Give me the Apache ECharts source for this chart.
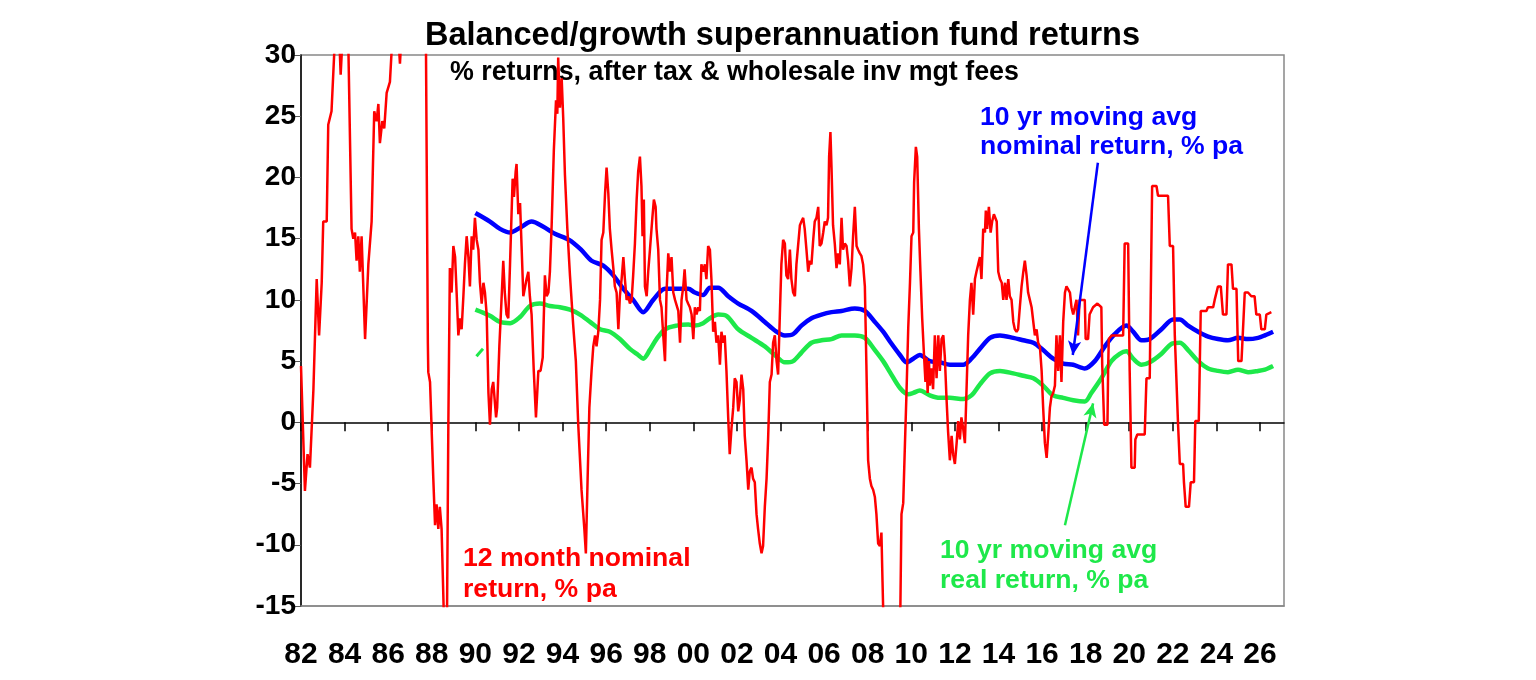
<!DOCTYPE html>
<html>
<head>
<meta charset="utf-8">
<title>Balanced/growth superannuation fund returns</title>
<script src="https://cdn.jsdelivr.net/npm/echarts@6.0.0/dist/echarts.min.js"></script>
<style>
  html, body { margin: 0; padding: 0; background: #fff; }
  #chart { width: 1536px; height: 680px; }
</style>
</head>
<body>
<div id="chart"></div>
<script>
// values: [decimal year, % pa]
// 12 month nominal return (goes past the axis range in 83-87, 88 and 08-09)
var nominal12m = [
  [1982.0, 4.6], [1982.18, -5.6], [1982.3, -2.6], [1982.41, -3.7], [1982.57, 2.7], [1982.72, 11.7],
  [1982.83, 7.1], [1982.95, 11.4], [1983.02, 16.4], [1983.18, 16.4], [1983.25, 24.3], [1983.4, 25.4],
  [1983.56, 31.5], [1983.7, 34], [1983.82, 28.4], [1983.95, 33], [1984.1, 34], [1984.17, 31],
  [1984.32, 15.8], [1984.4, 15.0], [1984.48, 15.5], [1984.55, 13.2], [1984.63, 15.2], [1984.7, 12.3],
  [1984.78, 15.2], [1984.94, 6.8], [1985.09, 12.9], [1985.24, 16.4], [1985.36, 25.4], [1985.47, 24.6],
  [1985.55, 26.0], [1985.62, 22.8], [1985.73, 24.6], [1985.82, 24.0], [1985.93, 26.9], [1986.08, 27.8],
  [1986.16, 30.4], [1986.3, 34], [1986.45, 32], [1986.54, 29.3], [1986.65, 33], [1986.9, 40],
  [1987.2, 45], [1987.5, 42], [1987.7, 40], [1987.82, 6.5], [1987.84, 4.1], [1987.92, 3.3],
  [1988.07, -4.6], [1988.15, -8.4], [1988.22, -6.7], [1988.3, -8.7], [1988.37, -6.9], [1988.45, -8.7],
  [1988.55, -15.5], [1988.62, -17], [1988.7, -15.5], [1988.76, -0.2], [1988.83, 12.6], [1988.91, 10.6],
  [1988.99, 14.4], [1989.07, 13.5], [1989.14, 10.6], [1989.22, 7.1], [1989.3, 8.5], [1989.37, 7.6],
  [1989.45, 10.3], [1989.52, 12.9], [1989.6, 15.2], [1989.68, 13.5], [1989.75, 11.1], [1989.83, 15.2],
  [1989.9, 14.1], [1989.98, 16.7], [1990.06, 14.9], [1990.14, 14.1], [1990.21, 11.4], [1990.29, 9.7],
  [1990.37, 11.4], [1990.44, 10.6], [1990.52, 8.8], [1990.6, 2.4], [1990.67, -0.2], [1990.75, 2.7],
  [1990.82, 3.3], [1990.95, 0.4], [1991.0, 1.2], [1991.1, 6.2], [1991.2, 10.0], [1991.28, 13.2],
  [1991.35, 10.6], [1991.43, 8.8], [1991.51, 8.5], [1991.59, 12.9], [1991.71, 19.9], [1991.77, 18.4],
  [1991.85, 20.5], [1991.89, 21.1], [1991.97, 17.0], [1992.05, 17.9], [1992.12, 14.4], [1992.2, 10.3],
  [1992.28, 10.3], [1992.35, 11.7], [1992.43, 12.3], [1992.5, 10.3], [1992.58, 8.8], [1992.68, 4.2],
  [1992.78, 0.4], [1992.89, 4.2], [1992.99, 4.2], [1993.09, 5.3], [1993.19, 12.0], [1993.27, 10.3],
  [1993.35, 10.6], [1993.42, 12.3], [1993.5, 16.1], [1993.6, 22.2], [1993.7, 26.3], [1993.76, 25.2],
  [1993.8, 29.8], [1993.88, 25.7], [1993.96, 28.1], [1994.03, 24.9], [1994.11, 20.2], [1994.22, 15.8],
  [1994.34, 12.0], [1994.49, 7.9], [1994.61, 5.0], [1994.72, -0.2], [1994.87, -5.5], [1995.0, -8.7],
  [1995.07, -10.7], [1995.15, -4.6], [1995.23, 1.2], [1995.33, 4.2], [1995.41, 6.2], [1995.49, 7.1],
  [1995.56, 6.2], [1995.64, 7.4], [1995.72, 10.0], [1995.79, 14.9], [1995.87, 15.5], [1995.95, 18.7],
  [1996.02, 20.8], [1996.1, 18.7], [1996.17, 15.8], [1996.25, 14.1], [1996.33, 12.6], [1996.4, 11.1],
  [1996.48, 10.6], [1996.56, 7.6], [1996.63, 10.3], [1996.71, 11.7], [1996.79, 13.5], [1996.86, 11.7],
  [1996.94, 10.0], [1997.02, 10.3], [1997.09, 9.7], [1997.17, 10.0], [1997.24, 12.0], [1997.32, 14.6],
  [1997.4, 18.2], [1997.47, 20.5], [1997.55, 21.7], [1997.62, 19.3], [1997.67, 15.2], [1997.73, 18.2],
  [1997.78, 11.1], [1997.86, 10.3], [1997.93, 12.3], [1998.01, 14.1], [1998.12, 16.7], [1998.19, 18.2],
  [1998.27, 17.6], [1998.31, 15.8], [1998.39, 14.1], [1998.47, 10.0], [1998.54, 9.4], [1998.62, 7.1],
  [1998.7, 5.0], [1998.77, 10.6], [1998.85, 13.8], [1998.93, 12.3], [1999.0, 13.5], [1999.08, 10.6],
  [1999.16, 10.0], [1999.23, 10.0], [1999.31, 9.1], [1999.39, 6.5], [1999.46, 10.0], [1999.54, 11.1],
  [1999.6, 12.5], [1999.69, 10.0], [1999.76, 9.7], [1999.84, 9.4], [1999.92, 8.8], [2000.0, 6.8],
  [2000.07, 9.4], [2000.15, 8.8], [2000.22, 9.4], [2000.3, 9.1], [2000.37, 12.9], [2000.45, 12.3],
  [2000.53, 12.9], [2000.6, 11.7], [2000.68, 14.4], [2000.76, 14.1], [2000.83, 11.7], [2000.91, 7.4],
  [2000.99, 8.2], [2001.06, 6.5], [2001.14, 7.1], [2001.22, 4.7], [2001.29, 7.4], [2001.37, 6.5],
  [2001.44, 7.1], [2001.52, 4.2], [2001.6, 0.4], [2001.67, -2.6], [2001.75, -0.5], [2001.83, 1.2],
  [2001.9, 3.6], [2001.98, 3.3], [2002.06, 0.9], [2002.13, 1.8], [2002.21, 3.9], [2002.29, 2.7],
  [2002.36, -1.1], [2002.44, -3.1], [2002.52, -5.5], [2002.59, -4.0], [2002.67, -3.7], [2002.74, -4.6],
  [2002.82, -4.9], [2002.9, -7.5], [2002.97, -8.7], [2003.05, -9.9], [2003.13, -10.7], [2003.2, -10.1],
  [2003.28, -6.9], [2003.36, -4.6], [2003.43, -1.4], [2003.51, 3.3], [2003.59, 3.9], [2003.66, 6.5],
  [2003.74, 7.1], [2003.82, 5.0], [2003.89, 3.9], [2003.97, 8.8], [2004.04, 12.9], [2004.12, 14.9],
  [2004.2, 14.6], [2004.27, 12.0], [2004.35, 11.7], [2004.43, 14.1], [2004.5, 11.7], [2004.58, 10.6],
  [2004.66, 10.3], [2004.73, 12.9], [2004.81, 12.9], [2004.89, 16.1], [2004.96, 16.4], [2005.04, 16.7],
  [2005.11, 15.8], [2005.19, 14.1], [2005.27, 12.3], [2005.34, 13.2], [2005.42, 12.9], [2005.5, 14.9],
  [2005.57, 16.4], [2005.65, 16.7], [2005.73, 17.6], [2005.8, 14.4], [2005.88, 14.6], [2005.96, 15.5],
  [2006.03, 16.4], [2006.11, 16.1], [2006.18, 16.7], [2006.23, 21.7], [2006.29, 23.7], [2006.34, 20.8],
  [2006.41, 16.1], [2006.49, 14.6], [2006.57, 12.6], [2006.64, 13.8], [2006.72, 12.9], [2006.8, 16.7],
  [2006.87, 14.1], [2006.95, 14.6], [2007.03, 14.4], [2007.1, 13.2], [2007.18, 11.1], [2007.26, 12.6],
  [2007.33, 15.2], [2007.41, 17.6], [2007.49, 14.4], [2007.56, 14.1], [2007.64, 13.8], [2007.71, 13.6],
  [2007.79, 12.9], [2007.87, 11.1], [2007.94, 4.7], [2008.02, -3.1], [2008.1, -4.6], [2008.17, -5.2],
  [2008.25, -5.5], [2008.33, -6.1], [2008.4, -7.5], [2008.48, -9.9], [2008.56, -10.1], [2008.63, -9.0],
  [2008.68, -13], [2008.72, -16], [2008.9, -20], [2009.1, -22], [2009.3, -19], [2009.45, -16],
  [2009.5, -15.0], [2009.55, -7.5], [2009.63, -6.6], [2009.71, -1.7], [2009.78, 2.4], [2009.86, 7.7],
  [2009.94, 11.4], [2010.01, 15.2], [2010.09, 15.5], [2010.13, 19.6], [2010.21, 22.5], [2010.27, 21.7],
  [2010.35, 15.8], [2010.42, 12.3], [2010.5, 8.5], [2010.58, 5.6], [2010.65, 3.3], [2010.7, 5.3],
  [2010.75, 2.4], [2010.81, 5.0], [2010.85, 3.0], [2010.93, 4.4], [2011.0, 2.7], [2011.08, 7.1],
  [2011.16, 3.6], [2011.24, 7.1], [2011.31, 4.2], [2011.39, 6.8], [2011.47, 7.1], [2011.54, 5.3],
  [2011.62, 1.8], [2011.69, -0.8], [2011.77, -3.1], [2011.85, -1.1], [2011.92, -2.6], [2012.0, -3.4],
  [2012.08, -1.7], [2012.15, 0.1], [2012.23, -1.4], [2012.3, 0.4], [2012.38, -0.5], [2012.46, -1.7],
  [2012.53, 2.4], [2012.61, 7.1], [2012.69, 10.0], [2012.76, 11.4], [2012.84, 8.8], [2012.92, 11.7],
  [2012.99, 12.3], [2013.07, 12.9], [2013.15, 13.5], [2013.22, 11.7], [2013.3, 15.8], [2013.38, 15.5],
  [2013.42, 17.3], [2013.48, 15.8], [2013.56, 17.6], [2013.64, 15.5], [2013.71, 16.4], [2013.79, 17.0],
  [2013.87, 17.0], [2013.92, 16.4], [2013.99, 12.3], [2014.07, 11.7], [2014.15, 11.4], [2014.22, 10.0],
  [2014.3, 11.4], [2014.37, 10.0], [2014.45, 11.7], [2014.52, 10.3], [2014.6, 10.0], [2014.68, 8.2],
  [2014.75, 7.6], [2014.83, 7.4], [2014.9, 7.6], [2014.98, 9.4], [2015.06, 11.1], [2015.14, 12.3],
  [2015.21, 13.2], [2015.29, 12.0], [2015.36, 10.6], [2015.44, 10.0], [2015.52, 9.4], [2015.59, 9.4],
  [2015.67, 7.1], [2015.75, 7.6], [2015.82, 6.5], [2015.9, 6.2], [2015.98, 4.2], [2016.05, 1.2],
  [2016.13, -1.7], [2016.21, -2.9], [2016.28, -1.1], [2016.36, 1.2], [2016.43, 2.1], [2016.51, 2.4],
  [2016.59, 3.0], [2016.66, 7.1], [2016.74, 4.2], [2016.82, 7.1], [2016.89, 3.3], [2016.97, 8.2],
  [2017.05, 10.6], [2017.12, 11.1], [2017.2, 11.1], [2017.28, 10.6], [2017.35, 9.4], [2017.43, 8.8],
  [2017.5, 9.4], [2017.58, 10.0], [2017.65, 7.1], [2017.72, 10.0], [2017.96, 10.0], [2018.0, 6.8],
  [2018.11, 6.8], [2018.18, 8.8], [2018.34, 9.4], [2018.54, 9.7], [2018.72, 9.4], [2018.76, 4.7],
  [2018.85, -0.2], [2019.0, -0.2], [2019.03, 4.2], [2019.06, 6.8], [2019.2, 7.1], [2019.72, 7.1],
  [2019.79, 14.6], [2019.95, 14.6], [2020.02, 4.2], [2020.1, -3.7], [2020.25, -3.7], [2020.28, -1.4],
  [2020.37, -1.0], [2020.71, -1.0], [2020.79, 3.6], [2020.94, 3.6], [2021.05, 19.3], [2021.25, 19.3],
  [2021.32, 18.5], [2021.78, 18.5], [2021.86, 14.4], [2022.01, 14.4], [2022.09, 7.1], [2022.24, -0.2],
  [2022.32, -3.4], [2022.47, -3.4], [2022.51, -4.9], [2022.59, -6.9], [2022.74, -6.9], [2022.82, -4.9],
  [2022.97, -4.9], [2023.03, 0.1], [2023.19, 0.1], [2023.28, 9.1], [2023.54, 9.1], [2023.61, 9.4],
  [2023.85, 9.4], [2023.92, 10.0], [2024.0, 10.0], [2024.07, 11.1], [2024.2, 11.1], [2024.3, 8.8],
  [2024.46, 8.8], [2024.53, 12.9], [2024.69, 12.9], [2024.76, 10.9], [2024.92, 10.9], [2025.0, 5.0],
  [2025.15, 5.0], [2025.3, 10.6], [2025.45, 10.6], [2025.6, 10.3], [2025.75, 10.3], [2025.83, 8.8],
  [2025.99, 8.8], [2026.06, 7.6], [2026.22, 7.6], [2026.29, 8.8], [2026.52, 9.0]
];

// 10 yr moving average nominal return
var nominal10y = [
  [1990.0, 17.1], [1990.67, 16.4], [1991.13, 15.8], [1991.6, 15.5], [1992.05, 15.9], [1992.58, 16.4],
  [1993.1, 16.0], [1993.65, 15.4], [1994.3, 14.9], [1994.85, 14.1], [1995.33, 13.2], [1995.87, 12.8],
  [1996.33, 12.0], [1996.79, 10.9], [1997.24, 10.0], [1997.7, 9.0], [1998.16, 10.0], [1998.7, 10.9],
  [1999.23, 10.9], [1999.77, 10.9], [2000.07, 10.6], [2000.45, 10.4], [2000.76, 11.0], [2001.14, 11.0],
  [2001.6, 10.3], [2002.06, 9.7], [2002.67, 9.1], [2003.28, 8.2], [2003.74, 7.5], [2004.2, 7.1],
  [2004.58, 7.2], [2004.96, 7.9], [2005.42, 8.5], [2005.88, 8.8], [2006.34, 9.0], [2006.8, 9.1],
  [2007.41, 9.3], [2007.87, 9.1], [2008.33, 8.2], [2008.71, 7.4], [2009.02, 6.6], [2009.48, 5.5],
  [2009.78, 4.9], [2010.09, 5.2], [2010.39, 5.5], [2010.85, 5.0], [2011.31, 4.9], [2011.77, 4.7],
  [2012.38, 4.7], [2012.76, 5.2], [2013.15, 6.0], [2013.61, 6.9], [2014.07, 7.1], [2014.68, 6.9],
  [2015.14, 6.7], [2015.6, 6.5], [2016.05, 5.9], [2016.51, 5.2], [2016.97, 4.8], [2017.43, 4.7],
  [2017.96, 4.4], [2018.42, 5.0], [2018.88, 6.2], [2019.33, 7.2], [2019.87, 7.9], [2020.18, 7.4],
  [2020.56, 6.7], [2020.94, 6.8], [2021.48, 7.6], [2022.01, 8.4], [2022.32, 8.4], [2022.7, 7.9],
  [2023.16, 7.4], [2023.62, 7.0], [2024.07, 6.8], [2024.53, 6.7], [2024.99, 6.9], [2025.45, 6.8],
  [2025.91, 6.9], [2026.22, 7.1], [2026.6, 7.4]
];

// 10 yr moving average real return
var real10y = [
  [1990.0, 9.2], [1990.67, 8.7], [1991.13, 8.2], [1991.6, 8.1], [1992.05, 8.6], [1992.5, 9.5],
  [1992.96, 9.7], [1993.42, 9.5], [1993.88, 9.4], [1994.34, 9.2], [1994.8, 8.8], [1995.26, 8.2],
  [1995.72, 7.6], [1996.17, 7.4], [1996.63, 6.8], [1997.09, 6.0], [1997.47, 5.5], [1997.7, 5.2],
  [1998.0, 5.9], [1998.31, 6.8], [1998.7, 7.6], [1999.23, 7.9], [1999.77, 8.0], [2000.07, 7.9],
  [2000.45, 8.1], [2000.76, 8.5], [2001.14, 8.8], [2001.52, 8.7], [2002.06, 7.6], [2002.67, 6.9],
  [2003.28, 6.2], [2003.74, 5.5], [2004.2, 4.9], [2004.58, 5.0], [2004.96, 5.7], [2005.42, 6.5],
  [2005.88, 6.7], [2006.34, 6.8], [2006.8, 7.1], [2007.41, 7.1], [2007.87, 6.9], [2008.33, 5.9],
  [2008.71, 5.0], [2009.02, 4.1], [2009.48, 2.8], [2009.86, 2.3], [2010.09, 2.4], [2010.39, 2.6],
  [2010.85, 2.2], [2011.31, 2.0], [2011.77, 2.0], [2012.38, 1.9], [2012.76, 2.2], [2013.15, 3.1],
  [2013.61, 4.0], [2014.07, 4.2], [2014.68, 4.0], [2015.14, 3.8], [2015.6, 3.6], [2016.05, 3.0],
  [2016.51, 2.2], [2016.97, 2.0], [2017.43, 1.8], [2017.96, 1.7], [2018.26, 2.4], [2018.72, 3.6],
  [2019.18, 5.0], [2019.56, 5.6], [2019.87, 5.8], [2020.18, 5.2], [2020.56, 4.7], [2020.94, 4.9],
  [2021.48, 5.6], [2021.93, 6.4], [2022.32, 6.5], [2022.7, 5.9], [2023.16, 5.0], [2023.62, 4.4],
  [2024.07, 4.2], [2024.53, 4.1], [2024.99, 4.3], [2025.45, 4.1], [2025.91, 4.2], [2026.22, 4.3],
  [2026.6, 4.6]
];

// the short stray green stroke near the start of the real series
var real10yStub = [[1990.05, 5.4], [1990.35, 6.0]];

// annotation arrows: [from, to] in data units
var nominalArrow = [[2018.56, 21.2], [2017.41, 5.5]];
var realArrow = [[2017.05, -8.4], [2018.34, 1.55]];

var tickYears = [1982, 1984, 1986, 1988, 1990, 1992, 1994, 1996, 1998, 2000, 2002, 2004,
  2006, 2008, 2010, 2012, 2014, 2016, 2018, 2020, 2022, 2024, 2026];

var RED = '#ff0000', BLUE = '#0000ff', GREEN = '#1ee84a';
var FONT = '"Liberation Sans", Arial, sans-serif';

function arrowLine(pts, color) {
  return {
    silent: true,
    symbol: ['none', 'arrow'],
    symbolSize: [10, 14],
    label: { show: false },
    lineStyle: { color: color, width: 2.5, type: 'solid' },
    data: [[{ coord: pts[0] }, { coord: pts[1] }]]
  };
}

function note(text, x, y, color, size, lh) {
  return {
    type: 'text', left: x, top: y, silent: true,
    style: {
      text: text, fill: color, fontFamily: FONT, fontWeight: 'bold',
      fontSize: size, lineHeight: lh || size
    }
  };
}

var chart = echarts.init(document.getElementById('chart'));
chart.setOption({
  animation: false,
  backgroundColor: '#fff',
  grid: { left: 301, right: 252, top: 55, bottom: 74, show: true, borderColor: '#888', borderWidth: 1.5 },
  xAxis: [
    {
      type: 'value', min: 1982, max: 2027.1,
      axisLine: { onZero: true, lineStyle: { color: '#000', width: 1.5 } },
      axisTick: { customValues: tickYears, length: 9, lineStyle: { color: '#000', width: 1.5 } },
      axisLabel: { show: false },
      splitLine: { show: false }
    },
    {
      type: 'value', min: 1982, max: 2027.1, position: 'bottom',
      axisLine: { onZero: false, lineStyle: { color: '#888', width: 1.5 } },
      axisTick: { show: false },
      axisLabel: {
        customValues: tickYears, margin: 34, color: '#000',
        fontFamily: FONT, fontWeight: 'bold', fontSize: 30,
        formatter: function (v) { return String(v).slice(2); }
      },
      splitLine: { show: false }
    }
  ],
  yAxis: {
    type: 'value', min: -15, max: 30, interval: 5,
    axisLine: { show: true, lineStyle: { color: '#000', width: 1.5 } },
    axisTick: { show: true, length: 8, lineStyle: { color: '#555' } },
    axisLabel: { color: '#000', fontFamily: FONT, fontWeight: 'bold', fontSize: 28, margin: 5 },
    splitLine: { show: false }
  },
  graphic: [
    note('Balanced/growth superannuation fund returns', 425, 20, '#000', 32.5),
    note('% returns, after tax & wholesale inv mgt fees', 450, 59, '#000', 26.8),
    note('10 yr moving avg\nnominal return, % pa', 980, 103, BLUE, 26.6, 29),
    note('10 yr moving avg\nreal return, % pa', 940, 536, GREEN, 26.6, 30),
    note('12 month nominal\nreturn, % pa', 463, 543, RED, 26.6, 31)
  ],
  series: [
    {
      name: '10 yr moving avg nominal return', type: 'line', data: nominal10y,
      smooth: 0.3, symbol: 'none', emphasis: { disabled: true },
      lineStyle: { color: BLUE, width: 4.5 },
      markLine: arrowLine(nominalArrow, BLUE)
    },
    {
      name: '10 yr moving avg real return', type: 'line', data: real10y,
      smooth: 0.3, symbol: 'none', emphasis: { disabled: true },
      lineStyle: { color: GREEN, width: 4.5 },
      markLine: arrowLine(realArrow, GREEN)
    },
    {
      name: 'real stub', type: 'line', data: real10yStub,
      symbol: 'none', emphasis: { disabled: true },
      lineStyle: { color: GREEN, width: 3 }
    },
    {
      name: '12 month nominal return', type: 'line', data: nominal12m,
      symbol: 'none', clip: true, emphasis: { disabled: true },
      lineStyle: { color: RED, width: 2.5 }
    }
  ]
});
</script>
</body>
</html>
